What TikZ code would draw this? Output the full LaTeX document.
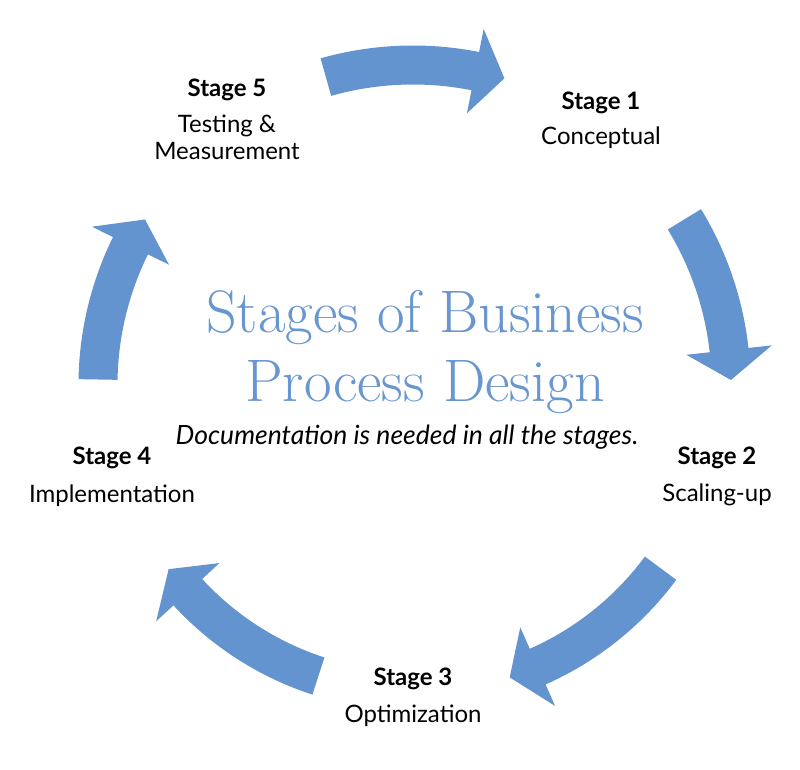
\documentclass[tikz,border=0pt]{standalone}
\usepackage{fontspec}
\newfontfamily\labelFont{Lato}
\usetikzlibrary{calc}
\definecolor{arrowBlue}{RGB}{99,148,207}
\definecolor{titleBlue}{RGB}{104,150,208}
\tikzstyle{blockArrow} = [fill=arrowBlue, draw=none]
\tikzstyle{stageHead}  = [anchor=base,
                          inner sep=0pt,
                          font=\labelFont\bfseries\fontsize{24}{27}\selectfont]
\tikzstyle{stageText}  = [anchor=base,
                          inner sep=0pt,
                          align=center,
                          font=\labelFont\fontsize{24}{27}\selectfont]
\tikzstyle{titleText}  = [anchor=base,
                          inner sep=0pt,
                          align=center,
                          text=titleBlue,
                          font=\fontsize{60}{69}\selectfont]
\tikzstyle{noteText}   = [anchor=base,
                          inner sep=0pt,
                          font=\labelFont\itshape\fontsize{26.5}{30}\selectfont]
% #1 tail angle, #2 tip angle, #3 radius
\newcommand{\cycleArrow}[3]{%
  \pgfmathsetmacro{\baseAng}{#2+30/#3*57.2958}
  \fill [blockArrow] (#1:#3+19.5) arc [start angle=#1, end angle=\baseAng, radius=#3+19.5]
    -- (\baseAng:#3+43) -- (#2:#3) -- (\baseAng:#3-43) -- (\baseAng:#3-19.5)
    arc [start angle=\baseAng, end angle=#1, radius=#3-19.5] -- cycle;
}

\begin{document}
\begin{tikzpicture}[x=1pt, y=1pt]
\useasboundingbox (-413,-385) rectangle (387,385);
\coordinate (hub) at (0,0);

\cycleArrow{105.8}{73.4}{320}
\cycleArrow{31.4}{0.9}{318}
\cycleArrow{-36.5}{-71.7}{308}
\cycleArrow{-108}{-143}{306}
\cycleArrow{179}{148.3}{315}

\node [stageHead] (stageOne)   at ([shift={(188,275)}] hub) {Stage 1};
\node [stageText] (conceptual) at ([shift={(0,-35)}] stageOne.base) {Conceptual};

\node [stageHead] (stageTwo)   at ([shift={(304,-80)}] hub) {Stage 2};
\node [stageText] (scaling)    at ([shift={(0,-37)}] stageTwo.base) {Scaling-up};

\node [stageHead] (stageThree) at ([shift={(0,-300)}] hub) {Stage 3};
\node [stageText] (optimize)   at ([shift={(0,-37)}] stageThree.base) {Optimization};

\node [stageHead] (stageFour)  at ([shift={(-301,-80)}] hub) {Stage 4};
\node [stageText] (implement)  at ([shift={(0,-38)}] stageFour.base) {Implementation};

\node [stageHead] (stageFive)  at ([shift={(-186,288)}] hub) {Stage 5};
\node [stageText] (testing)    at ([shift={(0,-63)}] stageFive.base) {Testing \&\\Measurement};

\node [titleText] (title) at ([shift={(12,-17)}] hub) {Stages of Business\\Process Design};
\node [noteText]  (note)  at ([shift={(-6,-60)}] hub) {Documentation is needed in all the stages.};

\end{tikzpicture}
\end{document}
